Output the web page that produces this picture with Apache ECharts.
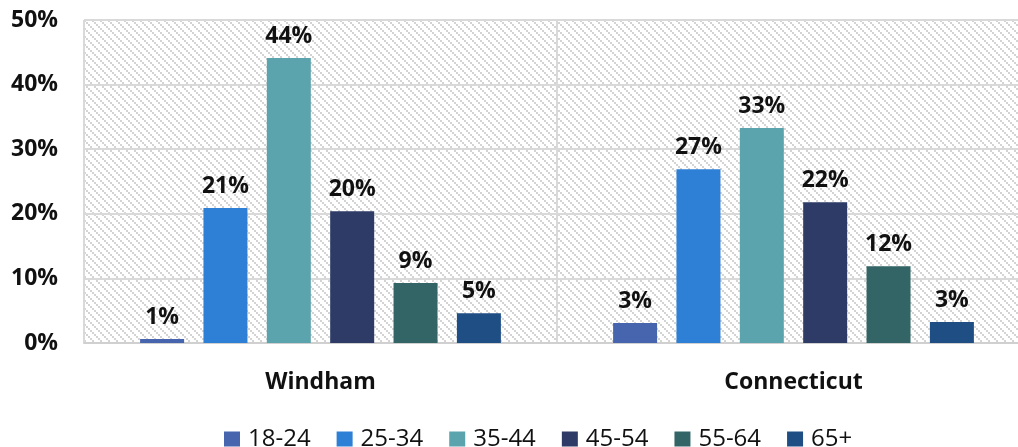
<!DOCTYPE html>
<html>
<head>
<meta charset="utf-8">
<script src="https://cdn.jsdelivr.net/npm/echarts@6/dist/echarts.min.js"></script>
<style>
html,body{margin:0;padding:0;background:#fff;overflow:hidden;}
#c{width:1030px;height:447px;}
</style>
</head>
<body>
<div id="c"></div>
<script>
const categories = ['Windham', 'Connecticut'];
const seriesNames = ['18-24', '25-34', '35-44', '45-54', '55-64', '65+'];
const s1824 = [0.6, 3.1];
const s2534 = [20.9, 26.9];
const s3544 = [44.1, 33.3];
const s4554 = [20.4, 21.8];
const s5564 = [9.3, 11.9];
const s65p = [4.6, 3.25];
const yTicks = [0, 10, 20, 30, 40, 50];
const colors = ['#4764ae', '#2e7fd6', '#5ba3ad', '#2d3b66', '#336567', '#1f4e85'];

const allData = [s1824, s2534, s3544, s4554, s5564, s65p];

// hatch pattern
const tile = document.createElement('canvas');
tile.width = 8; tile.height = 8;
const tc = tile.getContext('2d');
tc.fillStyle = '#ffffff';
tc.fillRect(0, 0, 8, 8);
tc.fillStyle = '#d4d4d4';
for (let k = 0; k < 4; k++) tc.fillRect(2 * k, 2 * k, 2, 2);

const font = '"Open Sans"';
const chart = echarts.init(document.getElementById('c'));
chart.setOption({
  animation: false,
  backgroundColor: '#ffffff',
  grid: {
    left: 84, right: 0, top: 20, bottom: 104,
    show: true,
    backgroundColor: { image: tile, repeat: 'repeat' },
    borderWidth: 0
  },
  legend: {
    top: 422,
    left: 219,
    itemWidth: 16,
    itemHeight: 15,
    itemGap: 26,
    icon: 'rect',
    textStyle: { fontFamily: font, fontSize: 24, color: '#111', padding: [0, 0, 0, 3] },
    data: seriesNames
  },
  xAxis: {
    type: 'category',
    data: categories,
    boundaryGap: true,
    axisLine: { show: true, lineStyle: { color: '#d0d0d0', width: 2 } },
    axisTick: { show: false },
    splitLine: { show: true, lineStyle: { color: '#d9d9d9', width: 2 } },
    axisLabel: { fontFamily: font, fontWeight: 'bold', fontSize: 23, color: '#111', margin: 28 }
  },
  yAxis: {
    type: 'value',
    min: 0, max: 50, interval: 10,
    axisLine: { show: false },
    axisTick: { show: false },
    splitLine: { show: true, lineStyle: { color: '#d9d9d9', width: 2 } },
    axisLabel: {
      fontFamily: font, fontWeight: 'bold', fontSize: 23, color: '#111', margin: 26,
      formatter: v => yTicks.includes(v) ? v + '%' : ''
    }
  },
  series: seriesNames.map((n, i) => ({
    name: n,
    type: 'bar',
    data: allData[i],
    barWidth: 44,
    barGap: '44%',
    itemStyle: { color: colors[i] },
    label: {
      show: true,
      position: 'top',
      distance: 10,
      fontFamily: font, fontWeight: 'bold', fontSize: 23, color: '#111',
      formatter: p => Math.round(p.value) + '%'
    }
  }))
});
</script>
</body>
</html>
